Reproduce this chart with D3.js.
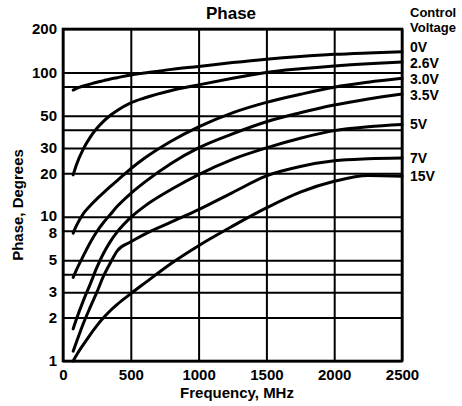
<!DOCTYPE html>
<html><head><meta charset="utf-8">
<script src="https://cdn.jsdelivr.net/npm/d3@7"></script>
<style>
body{margin:0;background:#fff}
svg{display:block}
text{font-family:"Liberation Sans",Arial,Helvetica,sans-serif;font-weight:bold;fill:#000}
</style></head><body>
<svg id="chart" width="462" height="406"></svg>
<script>
// ---- data ----
const frequencies = [75,100,150,200,250,300,350,400,500,600,800,1000,1250,1500,1750,2000,2250,2500];
const seriesNames = ["0V","2.6V","3.0V","3.5V","5V","7V","15V"];
const phase0V   = [75.5,77.5,80.5,83,85.5,87.7,90,92,96,99,105,110,117,123.5,129,133.5,136.5,139];
const phase2_6V = [19.5,23,29.5,35.5,41,46,50.5,54.5,61.5,66.5,75,82,91,100,106,111,115,118];
const phase3_0V = [7.7,8.7,10.5,11.9,13.3,14.7,16.2,17.8,21.5,25.4,33.5,42,52.5,62,70.5,79,85.5,91];
const phase3_5V = [3.8,4.3,5.35,6.6,7.9,9.15,10.4,11.8,14.5,17.3,23.5,30,37.5,45.5,52.5,59.4,65.5,71];
const phase5V   = [1.67,1.96,2.62,3.4,4.45,5.6,6.75,7.85,9.9,11.8,15.5,19.6,25,30,35,39.5,42,43.5];
const phase7V   = [1.17,1.36,1.82,2.35,3.0,3.9,4.8,5.8,6.7,7.55,9.2,11.2,14.7,19.2,22.3,24.4,25.2,25.5];
const phase15V  = [1.0,1.1,1.3,1.52,1.76,2.0,2.24,2.47,2.93,3.45,4.76,6.3,8.6,11.5,14.8,17.6,19.3,19.1];
const xTickValues = [0,500,1000,1500,2000,2500];
const yGridValues = [1,2,3,4,5,8,10,20,30,40,50,80,100,200];
const yTickLabels = [1,2,3,5,8,10,20,30,50,100,200];

const seriesValues = [phase0V,phase2_6V,phase3_0V,phase3_5V,phase5V,phase7V,phase15V];
const series = seriesNames.map((n,i)=>({name:n, values:seriesValues[i]}));

// ---- layout ----
const plotL=63, plotR=402, plotT=29, plotB=361;
const svg = d3.select("#chart");
const x = d3.scaleLinear().domain([0,2500]).range([plotL,plotR]);
const y = d3.scaleLog().domain([1,200]).range([plotB,plotT]);

// x axis + vertical grid
const gx = svg.append("g").attr("transform",`translate(0,${plotB})`)
  .call(d3.axisBottom(x).tickValues(xTickValues).tickSize(-(plotB-plotT)).tickPadding(8).tickFormat(d3.format("d")));
// y axis + horizontal grid
const gy = svg.append("g").attr("transform",`translate(${plotL},0)`)
  .call(d3.axisLeft(y).tickValues(yGridValues).tickSize(-(plotR-plotL)).tickPadding(6)
    .tickFormat(d => yTickLabels.includes(d) ? String(d) : ""));
[gx,gy].forEach(g=>{
  g.attr("font-family",null).attr("font-size",null);
  g.select(".domain").remove();
  g.selectAll(".tick line").attr("stroke","#000").attr("stroke-width",2);
  g.selectAll(".tick text").attr("font-size",15).attr("fill","#000");
});
// nudge the two closely spaced labels (10 and 8) apart a little
gy.selectAll(".tick text").attr("dy", d => d===10 ? "0.22em" : d===8 ? "0.45em" : "0.32em");

// frame
svg.append("rect").attr("x",plotL).attr("y",plotT).attr("width",plotR-plotL).attr("height",plotB-plotT)
  .attr("fill","none").attr("stroke","#000").attr("stroke-width",2.6);

// curves
const line = d3.line().x((d,i)=>x(frequencies[i])).y(d=>y(d)).curve(d3.curveMonotoneX);
svg.append("g").selectAll("path").data(series).join("path")
  .attr("d",d=>line(d.values)).attr("fill","none").attr("stroke","#000")
  .attr("stroke-width",3).attr("stroke-linecap","round");

// series labels at curve ends, relaxed apart so they do not overlap
const labelSize = 14, gap = 15.8;
const ly = series.map(s => y(s.values[s.values.length-1]) + 4.5);
for (let it=0; it<60; it++) {
  for (let i=1;i<ly.length;i++){
    const d = ly[i]-ly[i-1];
    if (d < gap) { const m=(gap-d)/2; ly[i-1]-=m; ly[i]+=m; }
  }
}
svg.append("g").selectAll("text").data(series).join("text")
  .attr("x",410).attr("y",(d,i)=>ly[i]).attr("font-size",labelSize).text(d=>d.name);

// legend title
svg.append("text").attr("x",410).attr("y",17).attr("font-size",13).text("Control");
svg.append("text").attr("x",410).attr("y",32).attr("font-size",13).text("Voltage");

// titles
svg.append("text").attr("x",231).attr("y",19).attr("text-anchor","middle").attr("font-size",17).text("Phase");
svg.append("text").attr("x",237).attr("y",398).attr("text-anchor","middle").attr("font-size",15).text("Frequency, MHz");
svg.append("text").attr("transform","translate(23,205) rotate(-90)").attr("text-anchor","middle").attr("font-size",15).text("Phase, Degrees");
</script>
</body></html>
